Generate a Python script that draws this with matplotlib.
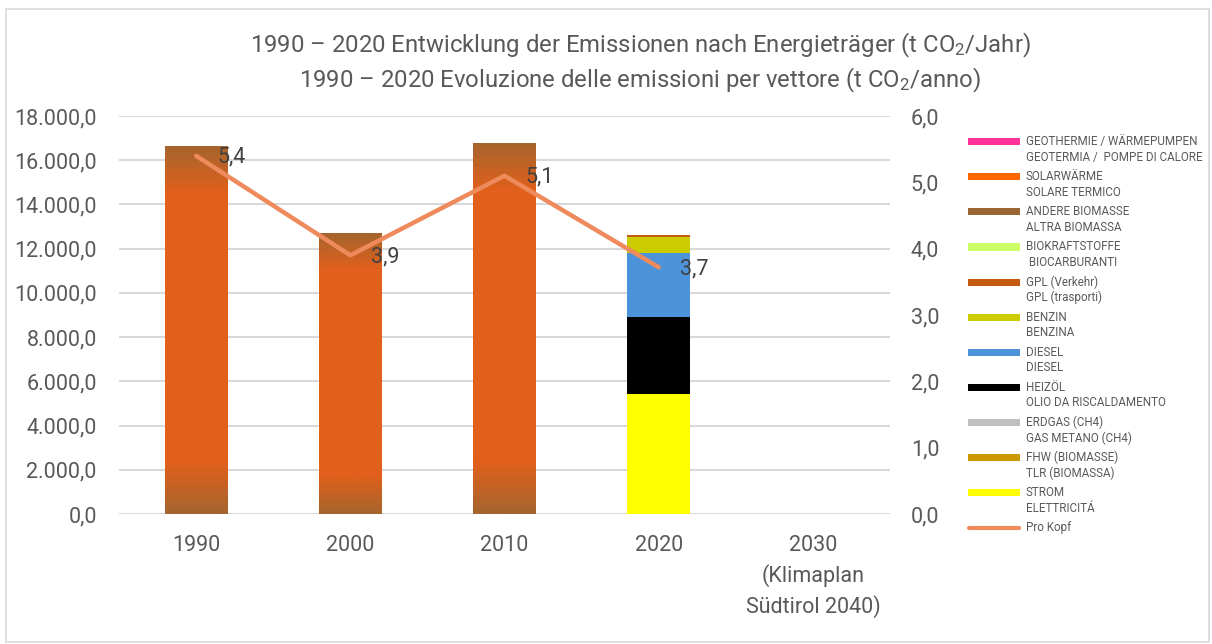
import numpy as np
import matplotlib
matplotlib.use("Agg")
import matplotlib.pyplot as plt
from matplotlib.patches import Rectangle
from matplotlib.lines import Line2D
from matplotlib.colors import LinearSegmentedColormap
from matplotlib.ticker import FuncFormatter

plt.rcParams["font.family"] = ["Roboto", "DejaVu Sans"]
plt.rcParams["mathtext.fontset"] = "custom"
plt.rcParams["mathtext.rm"] = "Roboto"
plt.rcParams["mathtext.default"] = "regular"

# ── data ────────────────────────────────────────────────────────────────
YEARS = ["1990", "2000", "2010", "2020", "2030\n(Klimaplan\nSüdtirol 2040)"]

# older years only known as total emissions (gradient bars)
TOTAL = [16650, 12700, 16800, np.nan, np.nan]

# stack order, bottom → top
SERIES = [
    "STROM\nELETTRICITÁ",
    "FHW (BIOMASSE)\nTLR (BIOMASSA)",
    "ERDGAS (CH4)\nGAS METANO (CH4)",
    "HEIZÖL\nOLIO DA RISCALDAMENTO",
    "DIESEL\nDIESEL",
    "BENZIN\nBENZINA",
    "GPL (Verkehr)\nGPL (trasporti)",
    "BIOKRAFTSTOFFE\n BIOCARBURANTI",
    "ANDERE BIOMASSE\nALTRA BIOMASSA",
    "SOLARWÄRME\nSOLARE TERMICO",
    "GEOTHERMIE / WÄRMEPUMPEN\nGEOTERMIA /  POMPE DI CALORE",
]
VALUES_2020 = [5430, 0, 0, 3500, 2890, 730, 70, 0, 0, 0, 0]
COLORS = ["#FFFF00", "#CC9900", "#BFBFBF", "#000000", "#4C93DA", "#CCCC00",
          "#C55A11", "#CCFF66", "#996633", "#FF6600", "#FF3399"]

PRO_KOPF = [5.4, 3.9, 5.1, 3.72, np.nan]
PRO_KOPF_LABELS = ["5,4", "3,9", "5,1", "3,7"]

GREY = "#595959"
LINE_C = "#EE8A5C"
W, H = 1212, 644


def px(x, y):
    return x / W, 1 - y / H


def de_fmt(v, _pos=None):
    s = f"{v:,.1f}"
    return s.replace(",", "X").replace(".", ",").replace("X", ".")


fig = plt.figure(figsize=(W / 100, H / 100), dpi=100)
fig.patch.set_facecolor("white")
ax = fig.add_axes([119 / W, 1 - 514 / H, (890 - 119) / W, (514 - 116) / H])

x = np.arange(len(YEARS))
bw = 0.405

# gradient total bars
grad = LinearSegmentedColormap.from_list(
    "g", [(0, "#A5652E"), (0.14, "#E2601B"), (0.87, "#E2601B"), (1, "#A5652E")])
bars = ax.bar(x, TOTAL, bw, facecolor="none", edgecolor="none", zorder=2)
g = np.linspace(0, 1, 256).reshape(-1, 1)
for b in bars:
    h = b.get_height()
    if not np.isfinite(h):
        continue
    x0 = b.get_x()
    im = ax.imshow(g, cmap=grad, extent=[x0, x0 + bw, 0, h], origin="lower",
                   aspect="auto", zorder=2)
    im.set_clip_path(b)

# stacked 2020
bottom = 0
for name, val, col in zip(SERIES, VALUES_2020, COLORS):
    if val > 0:
        ax.bar(x[3], val, bw, bottom=bottom, color=col, zorder=2)
    bottom += val

ax.set_xlim(-0.5, len(YEARS) - 0.5)
ax.set_ylim(0, 18000)
ax.set_yticks(np.arange(0, 18001, 2000))
ax.yaxis.set_major_formatter(FuncFormatter(de_fmt))
ax.set_xticks(x)
ax.set_xticklabels(YEARS, linespacing=1.45)
ax.grid(axis="y", color="#D9D9D9", lw=1.5, zorder=0)
ax.set_axisbelow(True)
for s in ax.spines.values():
    s.set_visible(False)
ax.tick_params(axis="y", length=0, pad=16, labelsize=15.5, labelcolor=GREY)
ax.tick_params(axis="x", length=0, pad=15, labelsize=15.5, labelcolor=GREY)

# per-capita line on secondary axis
ax2 = ax.twinx()
ax2.plot(x, PRO_KOPF, color=LINE_C, lw=3.2, solid_capstyle="round",
         solid_joinstyle="round", zorder=5)
for xi, v, lab in zip(x, PRO_KOPF, PRO_KOPF_LABELS):
    ax2.annotate(lab, (xi, v), xytext=(15, -1), textcoords="offset points",
                 ha="left", va="center", fontsize=15.5, color="#404040")
ax2.set_ylim(0, 6)
ax2.set_yticks(np.arange(0, 6.01, 1))
ax2.yaxis.set_major_formatter(FuncFormatter(lambda v, p: f"{v:.1f}".replace(".", ",")))
for s in ax2.spines.values():
    s.set_visible(False)
ax2.tick_params(axis="y", length=0, pad=15, labelsize=15.5, labelcolor=GREY)

# title
fig.text(*px(640, 45), "1990 – 2020 Entwicklung der Emissionen nach Energieträger (t CO$_2$/Jahr)",
         ha="center", va="center", fontsize=17.2, color=GREY)
fig.text(*px(640, 80), "1990 – 2020 Evoluzione delle emissioni per vettore (t CO$_2$/anno)",
         ha="center", va="center", fontsize=17.2, color=GREY)

# legend (top entry first, as in the original)
ly = 141.7
for name, col in zip(SERIES[::-1], COLORS[::-1]):
    l1, l2 = name.split("\n")
    fig.patches.append(Rectangle(px(968, ly + 3.5), 52 / W, 7 / H, facecolor=col,
                                 edgecolor="none", transform=fig.transFigure))
    fig.text(*px(1026, ly), l1, ha="left", va="center", fontsize=8.4, color=GREY)
    fig.text(*px(1026, ly + 15.5), l2, ha="left", va="center", fontsize=8.4, color=GREY)
    ly += 35.1
fig.lines.append(Line2D([969 / W, 1019 / W], [1 - ly / H] * 2, color=LINE_C, lw=3,
                        solid_capstyle="round", transform=fig.transFigure))
fig.text(*px(1026, ly), "Pro Kopf", ha="left", va="center", fontsize=8.4, color=GREY)

# chart frame
fig.patches.append(Rectangle(px(6, 642), 1203 / W, 633 / H, facecolor="none",
                             edgecolor="#D9D9D9", lw=1.2, transform=fig.transFigure))

fig.savefig("out.png", dpi=100, facecolor="white")
